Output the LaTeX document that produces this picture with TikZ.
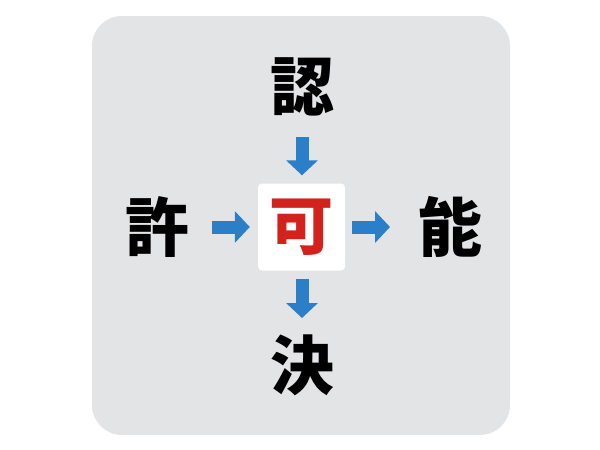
\documentclass[tikz,border=0pt]{standalone}
\usepackage{fontspec}
\newfontfamily\cjk{Noto Sans CJK JP}[UprightFont={* Black}]
\usetikzlibrary{arrows.meta}
\definecolor{bggray}{HTML}{E2E4E6}
\definecolor{arrblue}{HTML}{2B7EC8}
\definecolor{kared}{HTML}{D3221C}
\tikzset{
  kanji/.style={inner sep=0pt, font=\cjk\fontsize{64}{64}\selectfont, text=black},
  flow/.style={draw=arrblue, line width=13pt, -{Triangle[width=31pt,length=15pt]}},
}
\begin{document}
\begin{tikzpicture}[x=1pt,y=-1pt]
\useasboundingbox (0,0) rectangle (600,450);
\fill[white] (0,0) rectangle (600,450);
\fill[bggray, rounded corners=30pt] (92,16) rectangle (510,435);
\node[fill=white, rounded corners=4pt, minimum width=87pt, minimum height=87pt, inner sep=0pt,
      font=\cjk\fontsize{64}{64}\selectfont, text=kared] (ka) at (301.5,227) {可};
\node[kanji] (nin) at (302,87) {認};
\node[kanji] (kyo) at (157,227) {許};
\node[kanji] (nou) at (450,227) {能};
\node[kanji] (ketsu) at (302,365) {決};
\draw[flow, shorten <=50pt, shorten >=8pt] (nin.center) -- (ka.north -| nin.center);
\draw[flow, shorten <=55pt, shorten >=8pt] (kyo.center) -- (ka.west);
\draw[flow, shorten <=7pt, shorten >=60pt] (ka.east) -- (nou.center);
\draw[flow, shorten <=8pt, shorten >=47pt] (ka.south -| ketsu.center) -- (ketsu.center);
\end{tikzpicture}
\end{document}
